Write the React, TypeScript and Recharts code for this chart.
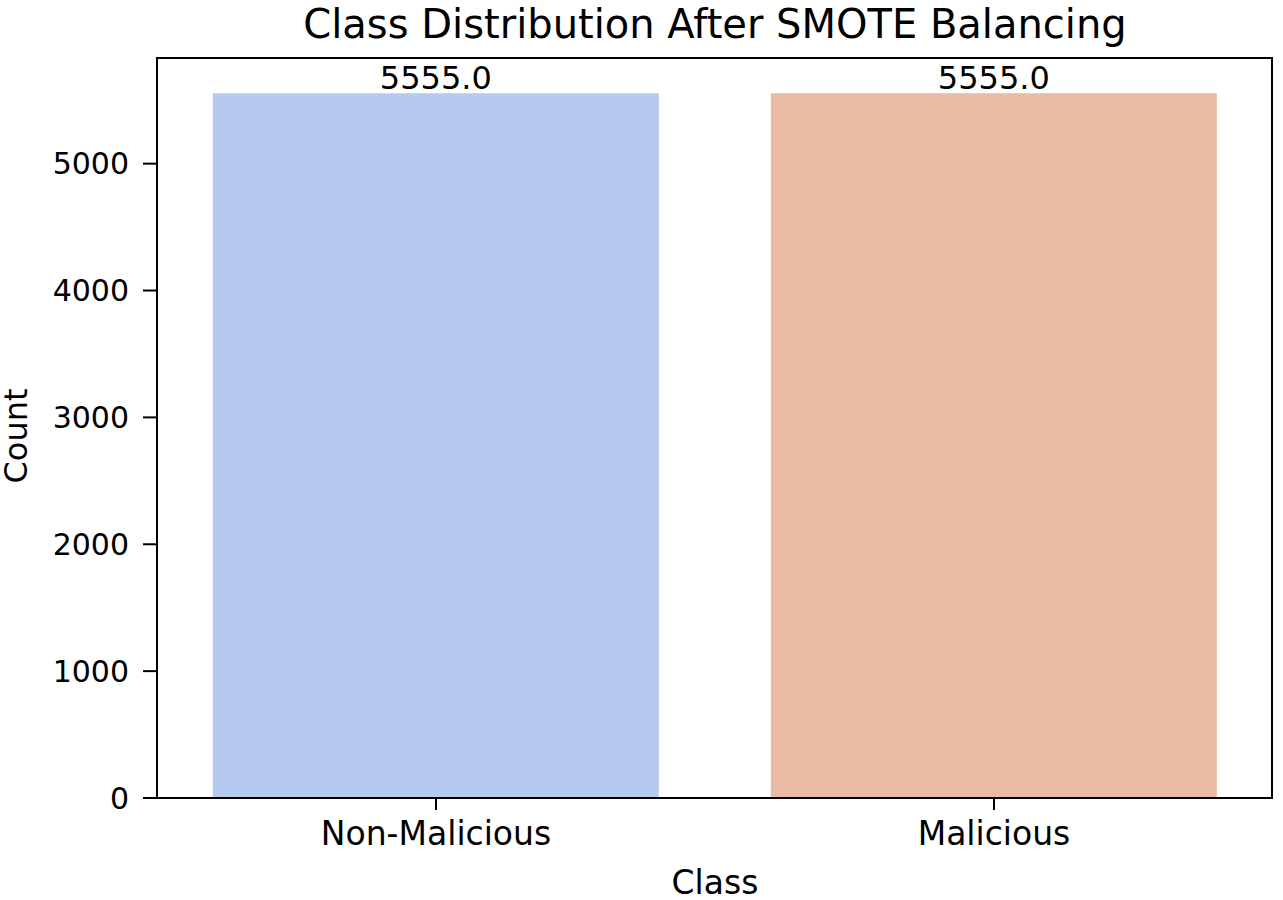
import { Bar, BarChart, Cell, LabelList, XAxis, YAxis } from 'recharts';

const classes = ['Non-Malicious', 'Malicious'];
const counts = [5555, 5555];
const barColors = ['#b5c9f1', '#ebbaa5'];
const yTicks = [0, 1000, 2000, 3000, 4000, 5000];

const font = '"DejaVu Sans", sans-serif';

function CountLabel() {
  return (
    <text
      x={16}
      y={436}
      transform="rotate(-90 16 436)"
      textAnchor="middle"
      dominantBaseline="central"
      fill="#000"
      fontSize={32}
      fontFamily={font}
    >
      Count
    </text>
  );
}

export default function App() {
  const chartData = classes.map((name, i) => ({ name, count: counts[i] }));
  const yMax = Math.max(...counts) * 1.05;

  return (
    <div style={{ position: 'absolute', left: 0, top: 0, width: 1283, height: 900, background: '#fff', fontFamily: font }}>
      <div
        style={{
          position: 'absolute',
          top: 0,
          left: 157,
          width: 1116,
          textAlign: 'center',
          fontSize: 40,
          lineHeight: '48px',
          color: '#000',
        }}
      >
        Class Distribution After SMOTE Balancing
      </div>
      <BarChart
        width={1283}
        height={900}
        data={chartData}
        margin={{ top: 58, right: 10, left: 0, bottom: 14 }}
        barCategoryGap="10%"
      >
        <XAxis
          dataKey="name"
          stroke="#000"
          strokeWidth={2}
          tickSize={12}
          tickMargin={12}
          tick={{ fill: '#000', fontSize: 33, fontFamily: font }}
          height={88}
          label={{ value: 'Class', position: 'insideBottom', offset: -8, fill: '#000', fontSize: 33, fontFamily: font }}
        />
        <YAxis
          domain={[0, yMax]}
          ticks={yTicks}
          stroke="#000"
          strokeWidth={2}
          tickSize={14}
          tickMargin={14}
          width={157}
          tick={{ fill: '#000', fontSize: 30, fontFamily: font }}
          label={{ content: CountLabel }}
        />
        <Bar dataKey="count" isAnimationActive={false}>
          {chartData.map((d, i) => (
            <Cell key={d.name} fill={barColors[i]} />
          ))}
          <LabelList
            dataKey="count"
            position="top"
            offset={4}
            formatter={(v: number) => v.toFixed(1)}
            style={{ fill: '#000', fontSize: 32, fontFamily: font }}
          />
        </Bar>
      </BarChart>
      {/* top and right frame lines of the axes box */}
      <div style={{ position: 'absolute', left: 156, top: 57, width: 1117, height: 741, borderTop: '2px solid #000', borderRight: '2px solid #000', boxSizing: 'border-box', pointerEvents: 'none' }} />
    </div>
  );
}
